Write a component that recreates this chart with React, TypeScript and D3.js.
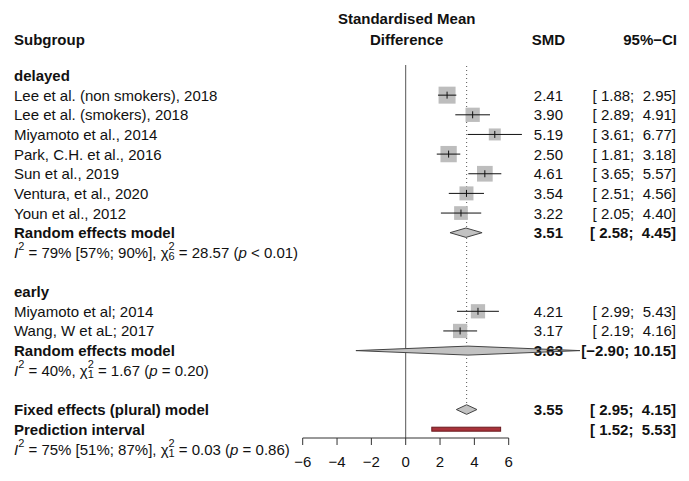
import React from "react";
import * as d3 from "d3";

// Subgroup "delayed"
const delayedStudies = [
  "Lee et al. (non smokers), 2018",
  "Lee et al. (smokers), 2018",
  "Miyamoto et al., 2014",
  "Park, C.H. et al., 2016",
  "Sun et al., 2019",
  "Ventura, et al., 2020",
  "Youn et al., 2012",
];
const delayedSmd = [2.41, 3.9, 5.19, 2.5, 4.61, 3.54, 3.22];
const delayedLower = [1.88, 2.89, 3.61, 1.81, 3.65, 2.51, 2.05];
const delayedUpper = [2.95, 4.91, 6.77, 3.18, 5.57, 4.56, 4.4];
const delayedWeight = [14.9, 10.5, 7.4, 13.7, 12.7, 10.1, 9.7];

// Subgroup "early"
const earlyStudies = ["Miyamoto et al; 2014", "Wang, W et aL; 2017"];
const earlySmd = [4.21, 3.17];
const earlyLower = [2.99, 2.19];
const earlyUpper = [5.43, 4.16];
const earlyWeight = [10.5, 10.5];

// Pooled estimates: [estimate, lower, upper]
const randomDelayed = [3.51, 2.58, 4.45];
const randomEarly = [3.63, -2.9, 10.15];
const fixedOverall = [3.55, 2.95, 4.15];
const predictionInterval = [1.52, 5.53];

// Heterogeneity statistics
const hetDelayed = { i2: "79%", i2ci: "[57%; 90%]", df: "6", q: "28.57", p: "< 0.01" };
const hetEarly = { i2: "40%", i2ci: "", df: "1", q: "1.67", p: "= 0.20" };
const hetOverall = { i2: "75%", i2ci: "[51%; 87%]", df: "1", q: "0.03", p: "= 0.86" };

const axisTicks = [-6, -4, -2, 0, 2, 4, 6];

const W = 689;
const H = 481;
const FONT = "'Liberation Sans', Arial, sans-serif";
const FS = 15;
const LABEL_X = 14;
const SMD_RIGHT = 563;
const CI_RIGHT = 676;
const ROW0 = 75.5;
const ROW_H = 19.65;
const AXIS_Y = 438;

const x = d3.scaleLinear().domain([-6, 6]).range([302.7, 508.7]);
const rowY = (k: number) => ROW0 + k * ROW_H;
const side = d3.scaleSqrt().domain([0, 14.9]).range([0, 17]);

const minus = (s: string) => s.replace(/-/g, "\u2212");
const pad = (v: number) => {
  const s = v.toFixed(2);
  return s.length < 5 ? " ".repeat(5 - s.length) + s : s;
};
const fmtCI = (lo: number, hi: number) => minus(`[${pad(lo)}; ${pad(hi)}]`);

type Het = { i2: string; i2ci: string; df: string; q: string; p: string };

function HetText({ y, het }: { y: number; het: Het }) {
  const fs = 15;
  const sfs = 11;
  return (
    <text x={LABEL_X} y={y} dominantBaseline="central" fontSize={fs} style={{ whiteSpace: "pre" }}>
      <tspan fontStyle="italic">I</tspan>
      <tspan fontSize={sfs} dy={-6}>2</tspan>
      <tspan dy={6}>{` = ${het.i2}${het.i2ci ? " " + het.i2ci : ""}, \u03c7`}</tspan>
      <tspan fontSize={sfs} dy={-6}>2</tspan>
      <tspan fontSize={sfs} dx={-6.1} dy={10}>{het.df}</tspan>
      <tspan dy={-4}>{` = ${het.q} (`}</tspan>
      <tspan fontStyle="italic">p</tspan>
      <tspan>{` ${het.p})`}</tspan>
    </text>
  );
}

function StudyRow({ k, label, est, lo, hi }: { k: number; label: string; est: number; lo: number; hi: number }) {
  const y = rowY(k);
  return (
    <g>
      <text x={LABEL_X} y={y} dominantBaseline="central">{label}</text>
      <text x={SMD_RIGHT} y={y} dominantBaseline="central" textAnchor="end">{est.toFixed(2)}</text>
      <text x={CI_RIGHT} y={y} dominantBaseline="central" textAnchor="end" style={{ whiteSpace: "pre" }}>{fmtCI(lo, hi)}</text>
    </g>
  );
}

function StudyMark({ k, est, lo, hi, w }: { k: number; est: number; lo: number; hi: number; w: number }) {
  const y = rowY(k);
  const s = side(w);
  return (
    <g>
      <rect x={x(est) - s / 2} y={y - s / 2} width={s} height={s} fill="#bdbdbd" />
      <line x1={x(lo)} x2={x(hi)} y1={y} y2={y} stroke="#111" strokeWidth={1} />
      <line x1={x(est)} x2={x(est)} y1={y - 3.5} y2={y + 3.5} stroke="#111" strokeWidth={1} />
    </g>
  );
}

function diamondPoints(y: number, est: number, lo: number, hi: number, h: number) {
  return [
    [x(lo), y],
    [x(est), y - h],
    [x(hi), y],
    [x(est), y + h],
  ]
    .map((p) => p.join(","))
    .join(" ");
}

function BoldRow({ k, label, est, lo, hi }: { k: number; label: string; est?: number; lo: number; hi: number }) {
  const y = rowY(k);
  return (
    <g fontWeight="bold">
      <text x={LABEL_X} y={y} dominantBaseline="central">{label}</text>
      {est !== undefined && (
        <text x={SMD_RIGHT} y={y} dominantBaseline="central" textAnchor="end">{est.toFixed(2)}</text>
      )}
      <text x={CI_RIGHT} y={y} dominantBaseline="central" textAnchor="end" style={{ whiteSpace: "pre" }}>{fmtCI(lo, hi)}</text>
    </g>
  );
}

export default function App() {
  const delayedRows = delayedStudies.map((label, i) => ({
    k: 1 + i,
    label,
    est: delayedSmd[i],
    lo: delayedLower[i],
    hi: delayedUpper[i],
    w: delayedWeight[i],
  }));
  const earlyRows = earlyStudies.map((label, i) => ({
    k: 12 + i,
    label,
    est: earlySmd[i],
    lo: earlyLower[i],
    hi: earlyUpper[i],
    w: earlyWeight[i],
  }));
  const allRows = [...delayedRows, ...earlyRows];
  const headerX = (x(-6) + x(6)) / 2 + 1;
  const fixedY = rowY(17);
  const fixedH = 4.8;

  const diamonds = [
    { key: "rd", pts: diamondPoints(rowY(8), randomDelayed[0], randomDelayed[1], randomDelayed[2], 4.7) },
    { key: "re", pts: diamondPoints(rowY(14), randomEarly[0], randomEarly[1], randomEarly[2], 4.5) },
    { key: "fx", pts: diamondPoints(fixedY, fixedOverall[0], fixedOverall[1], fixedOverall[2], fixedH) },
  ];

  return (
    <svg
      width={W}
      height={H}
      style={{ position: "absolute", left: 0, top: 0, background: "#fff" }}
      fontFamily={FONT}
      fontSize={FS}
      fill="#111"
    >
      <rect width={W} height={H} fill="#fff" />

      {/* reference lines */}
      <line x1={x(0)} x2={x(0)} y1={65} y2={AXIS_Y} stroke="#555" strokeWidth={1} />
      <line
        x1={x(fixedOverall[0])}
        x2={x(fixedOverall[0])}
        y1={66}
        y2={fixedY - fixedH}
        stroke="#555"
        strokeWidth={1}
        strokeDasharray="1,3"
      />

      {/* diamond fills sit beneath the text columns */}
      {diamonds.map((d) => (
        <polygon key={"f" + d.key} points={d.pts} fill="#c2c2c2" stroke="none" />
      ))}

      {/* column headers */}
      <g fontWeight="bold">
        <text x={LABEL_X} y={39} dominantBaseline="central">Subgroup</text>
        <text x={headerX} y={18} dominantBaseline="central" textAnchor="middle">Standardised Mean</text>
        <text x={headerX} y={39} dominantBaseline="central" textAnchor="middle">Difference</text>
        <text x={SMD_RIGHT + 2} y={39} dominantBaseline="central" textAnchor="end">SMD</text>
        <text x={CI_RIGHT + 1} y={39} dominantBaseline="central" textAnchor="end">{"95%\u2212CI"}</text>
      </g>

      {/* subgroup titles */}
      <text x={LABEL_X} y={rowY(0)} dominantBaseline="central" fontWeight="bold">delayed</text>
      <text x={LABEL_X} y={rowY(11)} dominantBaseline="central" fontWeight="bold">early</text>

      {allRows.map((r) => (
        <StudyRow key={r.label} k={r.k} label={r.label} est={r.est} lo={r.lo} hi={r.hi} />
      ))}

      <BoldRow k={8} label="Random effects model" est={randomDelayed[0]} lo={randomDelayed[1]} hi={randomDelayed[2]} />
      <HetText y={rowY(9)} het={hetDelayed} />
      <BoldRow k={14} label="Random effects model" est={randomEarly[0]} lo={randomEarly[1]} hi={randomEarly[2]} />
      <HetText y={rowY(15)} het={hetEarly} />
      <BoldRow k={17} label="Fixed effects (plural) model" est={fixedOverall[0]} lo={fixedOverall[1]} hi={fixedOverall[2]} />
      <BoldRow k={18} label="Prediction interval" lo={predictionInterval[0]} hi={predictionInterval[1]} />
      <HetText y={rowY(19)} het={hetOverall} />

      {allRows.map((r) => (
        <StudyMark key={"m" + r.label} {...r} />
      ))}

      {/* diamond outlines drawn over everything */}
      {diamonds.map((d) => (
        <polygon key={"o" + d.key} points={d.pts} fill="none" stroke="#444" strokeWidth={1} />
      ))}

      <rect
        x={x(predictionInterval[0])}
        y={rowY(18) - 2}
        width={x(predictionInterval[1]) - x(predictionInterval[0])}
        height={4}
        fill="#a8323a"
        stroke="#6a1a20"
        strokeWidth={1}
      />

      {/* x axis */}
      <g stroke="#333" strokeWidth={1} fill="none">
        <line x1={x(-6)} x2={x(6)} y1={AXIS_Y} y2={AXIS_Y} />
        {axisTicks.map((t) => (
          <line key={t} x1={x(t)} x2={x(t)} y1={AXIS_Y} y2={AXIS_Y + 7} />
        ))}
      </g>
      {axisTicks.map((t) => (
        <text key={"l" + t} x={x(t)} y={467} textAnchor="middle">
          {minus(String(t))}
        </text>
      ))}
    </svg>
  );
}
